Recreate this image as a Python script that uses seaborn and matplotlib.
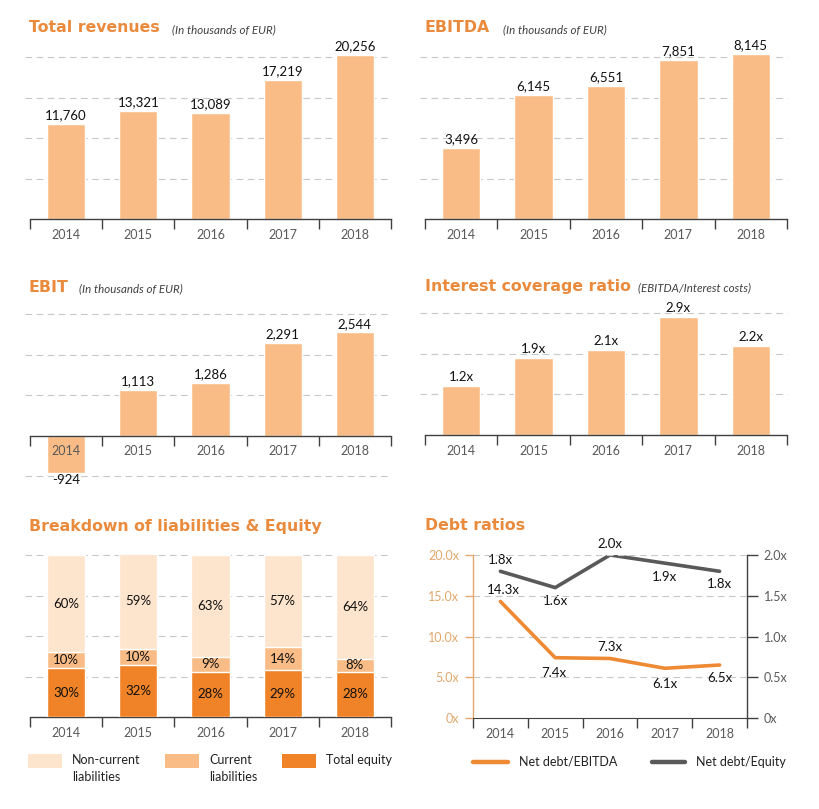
import numpy as np
import pandas as pd
import matplotlib
matplotlib.use("Agg")
import matplotlib.pyplot as plt
import seaborn as sns

sns.set_style("white")
plt.rcParams["font.family"] = ["Lato", "DejaVu Sans"]

# ---------------- data ----------------
years = ["2014", "2015", "2016", "2017", "2018"]
revenues = [11760, 13321, 13089, 17219, 20256]
ebitda = [3496, 6145, 6551, 7851, 8145]
ebit = [-924, 1113, 1286, 2291, 2544]
interest_cov = [1.2, 1.9, 2.1, 2.9, 2.2]
equity_pct = [30, 32, 28, 29, 28]
current_pct = [10, 10, 9, 14, 8]
noncurrent_pct = [60, 59, 63, 57, 64]
nd_ebitda = [14.3, 7.4, 7.3, 6.1, 6.5]
nd_equity = [1.8, 1.6, 2.0, 1.9, 1.8]

W, H = 820, 809
BAR = "#F9BC86"
C_NONCUR = "#FDE4CD"
C_CUR = "#F9BC86"
C_EQ = "#F08227"
TITLE_C = "#E98A3C"
TICK_C = "#595959"
GRID_C = "#C8C8C8"
LINE_OR = "#EE8A34"
LINE_GR = "#595959"
LEFT_C = "#E2A86E"

fig = plt.figure(figsize=(W / 100, H / 100), dpi=100)


def rect(x0, y0, x1, y1):
    return [x0 / W, 1 - y1 / H, (x1 - x0) / W, (y1 - y0) / H]


def title(x, y, text, sub=None, subx=None):
    fig.text(x / W, 1 - y / H, text, color=TITLE_C, fontsize=11.3,
             fontweight="bold", va="center", ha="left",
             family=["DejaVu Sans"])
    if sub:
        fig.text(subx / W, 1 - (y + 2) / H, sub, color="#404040", fontsize=8.3,
                 style="italic", va="center", ha="left")


def style_cat_axis(ax, grid_vals, ylim):
    ax.set_xlim(-0.5, 4.5)
    ax.set_ylim(*ylim)
    for s in ["top", "right", "left"]:
        ax.spines[s].set_visible(False)
    ax.spines["bottom"].set_color("#404040")
    ax.spines["bottom"].set_linewidth(1.0)
    ax.set_yticks([])
    ax.set_xticks(np.arange(-0.5, 5, 1))
    ax.set_xticklabels([])
    ax.tick_params(axis="x", which="major", direction="out", length=7,
                   width=1, color="#404040", bottom=True)
    ax.set_xticks(np.arange(5), minor=True)
    ax.set_xticklabels(years, minor=True)
    ax.tick_params(axis="x", which="minor", length=0, pad=7, bottom=True,
                   labelsize=9, labelcolor=TICK_C)
    for g in grid_vals:
        ax.axhline(g, color=GRID_C, lw=0.8, ls=(0, (6, 4)), zorder=0,
                   xmin=-0.015, clip_on=False)
    ax.set_xlabel("")
    ax.set_ylabel("")
    ax.patch.set_alpha(0)
    ax.xaxis.set_zorder(6)


def bar_panel(r, vals, grid_vals, ylim, fmt, ttl, sub, subx, tx, ty):
    ax = fig.add_axes(rect(*r))
    df = pd.DataFrame({"year": years, "v": vals})
    sns.barplot(data=df, x="year", y="v", color=BAR, width=0.53,
                saturation=1, ax=ax, zorder=2)
    for p in ax.patches:
        p.set_clip_on(False)
    style_cat_axis(ax, grid_vals, ylim)
    for i, v in enumerate(vals):
        if v >= 0:
            ax.annotate(fmt(v), (i, v), xytext=(0, 2), textcoords="offset points",
                        ha="center", va="bottom", fontsize=9.5, color="#111111",
                        annotation_clip=False)
        else:
            ax.annotate(fmt(v), (i, v), xytext=(0, -1), textcoords="offset points",
                        ha="center", va="top", fontsize=9.5, color="#111111",
                        annotation_clip=False)
    title(tx, ty, ttl, sub, subx)
    return ax


thou = lambda v: f"{v:,}"
xfmt = lambda v: f"{v:.1f}x"

# Panel 1 - Total revenues
bar_panel((30, 57, 391, 219), revenues, [5000, 10000, 15000, 20000], (0, 20000),
          thou, "Total revenues", "(In thousands of EUR)", 172, 29, 28)

# Panel 2 - EBITDA
bar_panel((425, 57, 787, 219), ebitda, [2000, 4000, 6000, 8000], (0, 8000),
          thou, "EBITDA", "(In thousands of EUR)", 503, 425, 28)

# Panel 3 - EBIT
ax3 = bar_panel((30, 314, 391, 476), ebit, [-1000, 1000, 2000, 3000], (-1000, 3000),
                thou, "EBIT", "(In thousands of EUR)", 79, 29, 287)
ax3.spines["bottom"].set_position(("data", 0))

# Panel 4 - Interest coverage
bar_panel((425, 313, 787, 435), interest_cov, [1, 2, 3], (0, 3),
          xfmt, "Interest coverage ratio", "(EBITDA/Interest costs)", 638, 425, 286)

# Panel 5 - Breakdown (stacked)
ax5 = fig.add_axes(rect(30, 555, 391, 717))
eq = np.array(equity_pct)
cu = np.array(current_pct)
nc = np.array(noncurrent_pct)
layers = [(eq + cu + nc, C_NONCUR), (eq + cu, C_CUR), (eq, C_EQ)]
for k, (vals, col) in enumerate(layers):
    sns.barplot(x=years, y=vals, color=col, width=0.53, saturation=1, ax=ax5,
                zorder=2 + k)
style_cat_axis(ax5, [25, 50, 75, 100], (0, 100))
for i in range(5):
    ax5.text(i, eq[i] / 2, f"{eq[i]}%", ha="center", va="center", fontsize=9.5,
             color="#111111", zorder=10)
    ax5.text(i, eq[i] + cu[i] / 2, f"{cu[i]}%", ha="center", va="center",
             fontsize=9.5, color="#111111", zorder=10)
    ax5.text(i, eq[i] + cu[i] + nc[i] / 2, f"{nc[i]}%", ha="center", va="center",
             fontsize=9.5, color="#111111", zorder=10)
title(29, 527, "Breakdown of liabilities & Equity")

# legend for panel 5
leg_items = [(28, C_NONCUR, "Non-current\nliabilities"),
             (165, C_CUR, "Current\nliabilities"),
             (282, C_EQ, "Total equity")]
for x, col, lab in leg_items:
    fig.patches.append(matplotlib.patches.Rectangle(
        (x / W, 1 - 768 / H), 34 / W, 14 / H, transform=fig.transFigure,
        facecolor=col, edgecolor="none"))
    fig.text((x + 44) / W, 1 - 754 / H, lab, ha="left", va="top",
             fontsize=9, color="#222222", linespacing=1.5)

# Panel 6 - Debt ratios
ax6 = fig.add_axes(rect(473, 555, 747, 718))
ax6r = ax6.twinx()
xs = np.arange(5)
sns.lineplot(x=xs, y=nd_ebitda, ax=ax6, color=LINE_OR, lw=2.6, zorder=3)
sns.lineplot(x=xs, y=nd_equity, ax=ax6r, color=LINE_GR, lw=2.6, zorder=3)
ax6.set_xlim(-0.5, 4.5)
ax6.set_ylim(0, 20)
ax6r.set_ylim(0, 2)
for a in (ax6, ax6r):
    a.spines["top"].set_visible(False)
    a.set_xlabel("")
    a.set_ylabel("")
ax6r.spines["left"].set_visible(False)
ax6r.spines["bottom"].set_visible(False)
ax6.spines["right"].set_visible(False)
ax6.spines["left"].set_color(LEFT_C)
ax6.spines["left"].set_linewidth(1.0)
ax6r.spines["right"].set_color("#404040")
ax6r.spines["right"].set_linewidth(1.0)
ax6.spines["bottom"].set_color("#404040")
ax6.set_yticks([0, 5, 10, 15, 20])
ax6.set_yticklabels(["0x", "5.0x", "10.0x", "15.0x", "20.0x"])
ax6.tick_params(axis="y", direction="out", length=6, width=1, color=LEFT_C,
                labelcolor=LEFT_C, labelsize=9, pad=4, left=True)
ax6r.set_yticks([0, 0.5, 1.0, 1.5, 2.0])
ax6r.set_yticklabels(["0x", "0.5x", "1.0x", "1.5x", "2.0x"])
ax6r.tick_params(axis="y", direction="out", length=8, width=1, color="#404040",
                 labelcolor=TICK_C, labelsize=9, pad=4, right=True)
ax6.set_xticks(np.arange(-0.5, 5, 1))
ax6.set_xticklabels([])
ax6.tick_params(axis="x", which="major", direction="out", length=7, width=1,
                color="#404040", bottom=True)
ax6.set_xticks(np.arange(5), minor=True)
ax6.set_xticklabels(years, minor=True)
ax6.tick_params(axis="x", which="minor", length=0, pad=7, labelsize=9,
                labelcolor=TICK_C, bottom=True)
for g in [5, 10, 15, 20]:
    ax6.axhline(g, color=GRID_C, lw=0.8, ls=(0, (6, 4)), zorder=0)
ax6.set_zorder(ax6r.get_zorder() + 1)
ax6.patch.set_alpha(0)

or_off = [(2, 8), (-1, -11), (0, 8), (0, -11), (0, -9)]
gr_off = [(0, 8), (0, -10), (0, 8), (0, -10), (0, -9)]
for i in range(5):
    ax6.annotate(xfmt(nd_ebitda[i]), (i, nd_ebitda[i]), xytext=or_off[i],
                 textcoords="offset points", ha="center", va="center",
                 fontsize=9.5, color="#111111", annotation_clip=False)
    ax6r.annotate(xfmt(nd_equity[i]), (i, nd_equity[i]), xytext=gr_off[i],
                  textcoords="offset points", ha="center", va="center",
                  fontsize=9.5, color="#111111", annotation_clip=False)
title(425, 526, "Debt ratios")

# legend for panel 6
for x0, x1, col, lab in [(473, 508, LINE_OR, "Net debt/EBITDA"),
                         (652, 685, LINE_GR, "Net debt/Equity")]:
    fig.add_artist(matplotlib.lines.Line2D([x0 / W, x1 / W], [1 - 762 / H] * 2,
                                           color=col, lw=3.2,
                                           solid_capstyle="round"))
    fig.text((x1 + 11) / W, 1 - 762 / H, lab, ha="left", va="center",
             fontsize=9, color="#222222")

fig.savefig("out.png", dpi=100)
